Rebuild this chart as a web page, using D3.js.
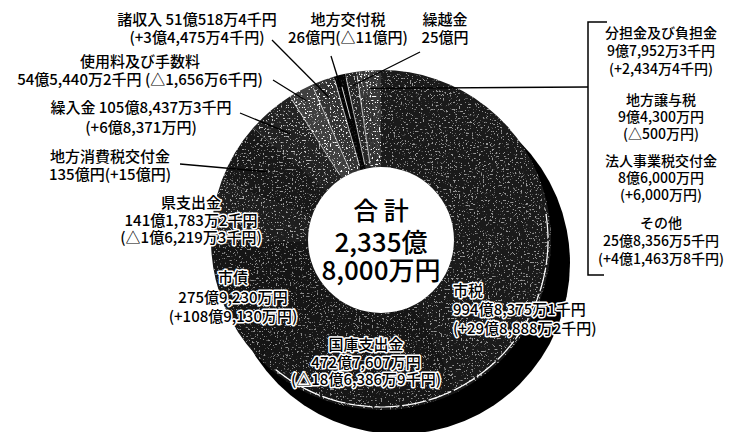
<!DOCTYPE html>
<html><head><meta charset="utf-8">
<script src="https://cdn.jsdelivr.net/npm/d3@7"></script>
<style>
html,body{margin:0;padding:0;background:#fff;}
svg{display:block;}
text{font-family:"Noto Sans CJK JP","Noto Sans CJK SC",sans-serif;fill:#000;}
</style></head>
<body>
<svg id="c" width="730" height="432"></svg>
<script>
// ---- data (億円) ----
const categories = ["市税","国庫支出金","市債","県支出金","地方消費税交付金","繰入金","使用料及び手数料","諸収入","地方交付税","繰越金","分担金及び負担金","地方譲与税","法人事業税交付金","その他"];
const values = [994.8375, 472.7607, 275.923, 141.1783, 135, 105.8437, 54.5440, 51.0518, 26, 25, 9.7952, 9.43, 8.6, 25.8357];
const amountLabels = ["994億8,375万1千円","472億7,607万円","275億9,230万円","141億1,783万2千円","135億円","105億8,437万3千円","54億5,440万2千円","51億518万4千円","26億円","25億円","9億7,952万3千円","9億4,300万円","8億6,000万円","25億8,356万5千円"];
const changeLabels = ["(+29億8,888万2千円)","(△18億6,386万9千円)","(+108億9,130万円)","(△1億6,219万3千円)","(+15億円)","(+6億8,371万円)","(△1,656万6千円)","(+3億4,475万4千円)","(△11億円)","","(+2,434万4千円)","(△500万円)","(+6,000万円)","(+4億1,463万8千円)"];
const totalLabel = ["合 計","2,335億","8,000万円"];

// ---- styles ----
const fills = ["#1a1a1a","#161616","#151515","#1e1e1e","#181818","#222","#404040","#333","#050505","#262626","#383838","#383838","#383838","#383838"];
const speck = [0.55,0.5,0.5,0.6,0.55,0.7,1,0.95,0.12,0.7,1,1,1,1];

const svg = d3.select("#c");
const cx = 381, cy = 240, rO = 170, rI = 73;

const defs = svg.append("defs");
const f = defs.append("filter").attr("id","spk").attr("filterUnits","userSpaceOnUse")
  .attr("x",-220).attr("y",-220).attr("width",440).attr("height",440);
f.append("feTurbulence").attr("type","fractalNoise").attr("baseFrequency",0.55).attr("numOctaves",2).attr("seed",11).attr("result","n");
f.append("feColorMatrix").attr("in","n").attr("type","matrix")
  .attr("values","0 0 0 0 1  0 0 0 0 1  0 0 0 0 1  12 0 0 0 -7.4").attr("result","w");
f.append("feComposite").attr("in","w").attr("in2","SourceGraphic").attr("operator","in");

const data = categories.map((c,i)=>({c, v:values[i], i}));
const pie = d3.pie().sort(null).value(d=>d.v).startAngle(0).endAngle(2*Math.PI);
const arcs = pie(data);
const arc = d3.arc().innerRadius(rI).outerRadius(rO);

const g = svg.append("g").attr("transform",`translate(${cx},${cy})`);
// extruded shadow
g.append("circle").attr("cx",18).attr("cy",23).attr("r",rO+1).attr("fill","#000");
// segments
g.selectAll("path.seg").data(arcs).join("path").attr("class","seg")
  .attr("d",arc).attr("fill",d=>fills[d.data.i]);
// speckle texture
g.append("g").attr("filter","url(#spk)").selectAll("path").data(arcs).join("path")
  .attr("d",arc).attr("fill","#fff").attr("fill-opacity",d=>speck[d.data.i]);
// white separators between the smaller segments
g.selectAll("line.sep").data(arcs.slice(5,10)).join("line").attr("class","sep")
  .attr("x1",d=>Math.sin(d.endAngle)*(rI+4)).attr("y1",d=>-Math.cos(d.endAngle)*(rI+4))
  .attr("x2",d=>Math.sin(d.endAngle)*(rO-4)).attr("y2",d=>-Math.cos(d.endAngle)*(rO-4))
  .attr("stroke","#fff").attr("stroke-width",1).attr("stroke-opacity",0.7);
// face rim dashed line on shadow side
g.append("path").attr("d",d3.arc()({innerRadius:rO-3,outerRadius:rO-3,startAngle:Math.PI*0.45,endAngle:Math.PI*1.22}))
  .attr("fill","none").attr("stroke","#fff").attr("stroke-width",1.2).attr("stroke-dasharray","14 4 6 3");
// hole
g.append("circle").attr("r",rI).attr("fill","#fff");

// center total
const ct = g.append("g");
ct.append("text").attr("x",0).attr("y",-20).attr("text-anchor","middle").attr("font-size",25).attr("font-weight",500).text(totalLabel[0]);
ct.append("text").attr("x",0).attr("y",12).attr("text-anchor","middle").attr("font-size",26).attr("font-weight",500).text(totalLabel[1]);
ct.append("text").attr("x",0).attr("y",40).attr("text-anchor","middle").attr("font-size",26).attr("font-weight",500).text(totalLabel[2]);

// helper: point on ring
function pt(i, r){ const a=(arcs[i].startAngle+arcs[i].endAngle)/2; return [cx+Math.sin(a)*r, cy-Math.cos(a)*r]; }
function ptRange(i0,i1,r){ const a=(arcs[i0].startAngle+arcs[i1].endAngle)/2; return [cx+Math.sin(a)*r, cy-Math.cos(a)*r]; }

// leader lines
const leaders = [
  {from:[272,40], to:pt(7,152)},
  {from:[331,56], to:pt(8,125)},
  {from:[420,52], to:pt(9,157)},
  {from:[273,80], to:pt(6,158)},
  {from:[240,113], to:pt(5,140)},
  {from:[180,164], to:pt(4,133)},
  {from:[588,87], to:ptRange(10,13,152)}
];
svg.selectAll("line.ld").data(leaders).join("line").attr("class","ld")
  .attr("x1",d=>d.from[0]).attr("y1",d=>d.from[1]).attr("x2",d=>d.to[0]).attr("y2",d=>d.to[1])
  .attr("stroke","#000").attr("stroke-width",1.3);
// light part of the 地方交付税 leader inside the black segment
const p1 = pt(8,160), p2 = pt(8,125);
svg.append("line").attr("x1",p1[0]).attr("y1",p1[1]+2).attr("x2",p2[0]).attr("y2",p2[1]).attr("stroke","#ddd").attr("stroke-width",1);

// bracket
svg.append("path").attr("d","M607,22 H588 V275 H604").attr("fill","none").attr("stroke","#000").attr("stroke-width",1.5);

// labels
function label(lines, x, y, opts={}){
  const t = svg.append("text").attr("text-anchor",opts.anchor||"middle").attr("font-size",opts.size||15).attr("font-weight",500);
  if(opts.halo) t.attr("stroke","#fff").attr("stroke-width",3).attr("paint-order","stroke").attr("stroke-linejoin","round");
  lines.forEach((s,k)=>{ t.append("tspan").attr("x",x).attr("y",y+k*(opts.lh||18)).text(s); });
}
label([categories[7]+" "+amountLabels[7], changeLabels[7]], 197, 25);
label([categories[8], amountLabels[8]+changeLabels[8]], 348, 25);
label([categories[9], amountLabels[9]], 445, 25);
label([categories[6], amountLabels[6]+" "+changeLabels[6]], 140, 67);
label([categories[5]+" "+amountLabels[5], changeLabels[5]], 141, 113, {lh:20});
label([categories[4], amountLabels[4]+changeLabels[4]], 110, 162);
label([categories[3], amountLabels[3], changeLabels[3]], 191, 208, {halo:true,lh:17.5});
label([categories[2], amountLabels[2], changeLabels[2]], 233, 283, {halo:true,lh:19.5});
label([categories[1], amountLabels[1], changeLabels[1]], 366, 350, {halo:true,lh:17.5});
label([categories[0], amountLabels[0], changeLabels[0]], 453, 296, {halo:true,lh:19,anchor:"start"});
// right column
label([categories[10], amountLabels[10], changeLabels[10]], 661, 38, {size:14,lh:18});
label([categories[11], amountLabels[11], changeLabels[11]], 661, 105, {size:14,lh:17});
label([categories[12], amountLabels[12], changeLabels[12]], 661, 166, {size:14,lh:17});
label([categories[13], amountLabels[13], changeLabels[13]], 661, 228, {size:14,lh:18});
</script>
</body></html>
